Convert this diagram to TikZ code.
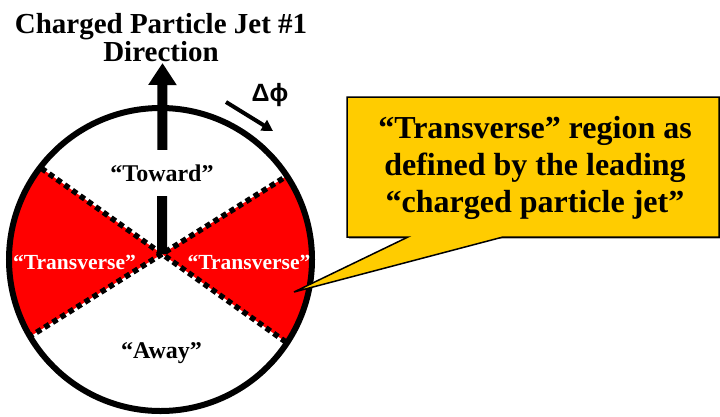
\documentclass[tikz,border=0pt]{standalone}
\usepackage{fontspec}
\setmainfont{Liberation Serif}
\newfontfamily\arialfont{Liberation Sans}
\usetikzlibrary{arrows.meta}
\definecolor{calloutfill}{HTML}{FFCC00}
\definecolor{wedgered}{HTML}{FF0000}
\tikzset{
  titlelbl/.style={font=\bfseries\fontsize{29}{29}\selectfont, inner sep=0pt, anchor=base},
  regionlbl/.style={font=\bfseries\fontsize{24}{28}\selectfont, inner sep=0pt, anchor=base},
  translbl/.style={font=\bfseries\fontsize{21.5}{25}\selectfont, text=white, inner sep=0pt, anchor=base},
  calloutlbl/.style={font=\bfseries\fontsize{32}{36.7}\selectfont, inner sep=0pt, anchor=base},
  wedgeedge/.style={draw=black, line width=5.5pt, dash pattern=on 5.5pt off 4pt},
}
\begin{document}
\begin{tikzpicture}[x=1pt,y=1pt]
\useasboundingbox (0,0) rectangle (720,-416);
\coordinate (C) at (160.5,-259.5);
\coordinate (A) at (162,-254);
\coordinate (UL) at ([shift={(144.6:300)}]A);
\coordinate (LR) at ([shift={(-35.4:300)}]A);
\coordinate (LL) at ([shift={(212:300)}]A);
\coordinate (UR) at ([shift={(32:300)}]A);
% wedges
\begin{scope}
  \clip (C) circle (151.5);
  \fill[wedgered] (A) -- (UR) -- (LR) -- cycle;
  \fill[wedgered] (A) -- (UL) -- (LL) -- cycle;
  \draw[wedgeedge] (UL) -- (LR);
  \draw[wedgeedge] (LL) -- (UR);
\end{scope}
% circle
\draw[line width=6pt] (C) circle (151.5);
% jet arrow
\coordinate (jettip) at (162.5,-63);
\draw[line width=10pt, -{Triangle[width=27pt,length=22pt]}] (A) -- (jettip);
% labels
\node[regionlbl, fill=white, minimum height=46pt, inner xsep=3pt] (toward) at (162,-181.7) {“Toward”};
\node[regionlbl] (away) at (161.5,-358.3) {“Away”};
\node[translbl] (tleft) at (74.5,-269.3) {“Transverse”};
\node[translbl] (tright) at (249,-269.3) {“Transverse”};
% title
\node[titlelbl] (title1) at (161,-33.3) {Charged Particle Jet \#1};
\node[titlelbl] (title2) at (161,-61.7) {Direction};
% delta phi
\coordinate (dpstart) at (226,-102);
\coordinate (dpend) at (273,-131);
\draw[line width=4pt, -{Triangle[width=12pt,length=11pt]}] (dpstart) -- (dpend);
\node[font=\arialfont\bfseries\fontsize{25}{25}\selectfont, inner sep=0pt, anchor=base] (dphi) at (270,-101.5) {Δϕ};
% callout
\coordinate (ctip) at (294,-292);
\fill[gray!60] (349,-99) -- (720,-99) -- (720,-239) -- (349,-239) -- cycle;
\draw[line width=1.5pt, fill=calloutfill] (347,-97) -- (719,-97) -- (719,-237) -- (503,-237) -- (ctip) -- (408,-237) -- (347,-237) -- cycle;
\node[calloutlbl] (c1) at (535,-138.3) {“Transverse” region as};
\node[calloutlbl] (c2) at (535,-175) {defined by the leading};
\node[calloutlbl] (c3) at (535,-212.5) {“charged particle jet”};
\end{tikzpicture}
\end{document}
